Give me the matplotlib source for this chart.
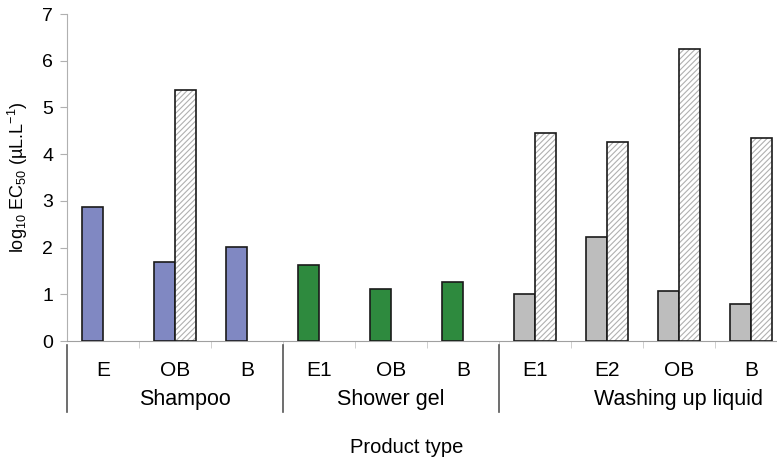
import numpy as np
import matplotlib
matplotlib.use("Agg")
import matplotlib.pyplot as plt
import matplotlib.transforms as mtransforms

plt.rcParams["font.family"] = ["Liberation Sans", "DejaVu Sans"]
plt.rcParams["mathtext.fontset"] = "custom"
plt.rcParams["mathtext.rm"] = "Liberation Sans"
plt.rcParams["mathtext.it"] = "Liberation Sans"
plt.rcParams["hatch.linewidth"] = 0.8

# product sub-types, grouped by product
groups = ["Shampoo", "Shower gel", "Washing up liquid"]
group_sizes = [3, 3, 4]
subtypes = ["E", "OB", "B", "E1", "OB", "B", "E1", "E2", "OB", "B"]

# log10 EC50 per sub-type; second series only measured for some
ec50_a = [2.87, 1.69, 2.01, 1.63, 1.11, 1.26, 1.00, 2.22, 1.08, 0.80]
ec50_b = [np.nan, 5.37, np.nan, np.nan, np.nan, np.nan, 4.46, 4.26, 6.25, 4.35]

group_colors = ["#8088c2", "#2e8a3e", "#bdbdbd"]

fig = plt.figure(figsize=(7.77, 4.61), dpi=100)
ax = fig.add_axes([67 / 777, 120 / 461, 720 / 777, 327 / 461])

colors = np.repeat(group_colors, group_sizes)
centers = np.arange(len(subtypes)) + 0.5
w = 0.29
edge = "#1a1a1a"

ax.bar(centers - w, ec50_a, w, align="edge", color=colors, edgecolor=edge, lw=1.2, zorder=3)
vals_b = np.array(ec50_b)
ok = ~np.isnan(vals_b)
# hatched fill first (grey hatch lines), then a dark outline on top
ax.bar(centers[ok], vals_b[ok], w, align="edge", color="white", edgecolor="#b0b0b0",
       hatch="//////", lw=0, zorder=3)
ax.bar(centers[ok], vals_b[ok], w, align="edge", fill=False, edgecolor=edge, lw=1.2, zorder=4)

ax.set_xlim(0, len(subtypes))
ax.set_ylim(0, 7)
ax.set_yticks(range(8))
ax.tick_params(axis="y", labelsize=14, length=5, color="#b0b0b0", pad=5)
ax.spines[["top", "right"]].set_visible(False)
ax.spines["left"].set_color("#b0b0b0")
ax.spines["bottom"].set_color("#a0a0a0")

ax.set_xticks([])
ax.set_xticks(np.arange(1, len(subtypes)), minor=True)
ax.tick_params(axis="x", which="minor", length=5, color="#c8c8c8", labelbottom=False)

trans = mtransforms.blended_transform_factory(ax.transData, ax.transAxes)
for c, s in zip(centers, subtypes):
    ax.text(c, -0.089, s, transform=trans, ha="center", va="center", fontsize=15)

# group captions sit a little right of their span (last group runs off the edge)
nudge = [0.14, 0.0, 0.49]
bounds = np.concatenate([[0], np.cumsum(group_sizes)])
for i, g in enumerate(groups):
    ax.plot([bounds[i], bounds[i]], [-0.012, -0.217], transform=trans, color="#555555",
            lw=1.2, clip_on=False)
    mid = (bounds[i] + bounds[i + 1]) / 2 + nudge[i]
    ax.text(mid, -0.180, g, transform=trans, ha="center", va="center", fontsize=15.5)

# centred on the figure, not the (wider) axes
fig.text(407 / 777, 14 / 461, "Product type", ha="center", va="center", fontsize=14.5)
ax.set_ylabel("log$_{10}$ EC$_{50}$ (µL.L$^{-1}$)", fontsize=13, labelpad=9)

fig.savefig("out.png", dpi=100)
